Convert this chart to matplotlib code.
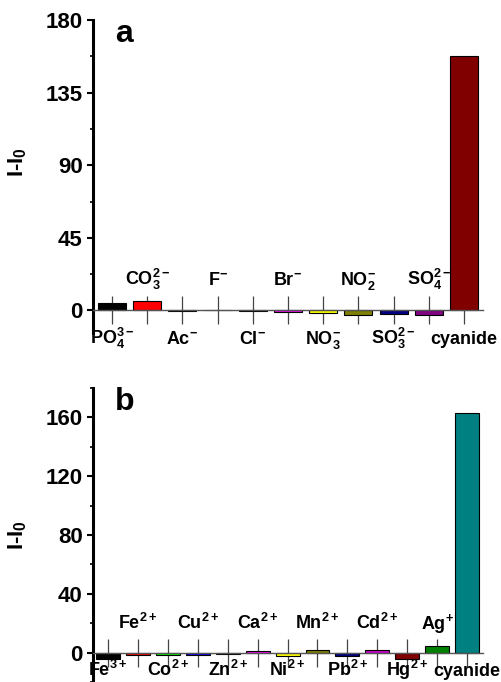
import matplotlib.pyplot as plt
from matplotlib.ticker import MultipleLocator

plt.rcParams['font.family'] = ['Liberation Sans', 'DejaVu Sans']
plt.rcParams['mathtext.fontset'] = 'custom'
plt.rcParams['mathtext.rm'] = 'Liberation Sans:bold'
plt.rcParams['mathtext.bf'] = 'Liberation Sans:bold'
plt.rcParams['mathtext.it'] = 'Liberation Sans:bold'

# === panel a: anions ===
anion_labels = [r'$\mathbf{PO_4^{3-}}$', r'$\mathbf{CO_3^{2-}}$', r'$\mathbf{Ac^{-}}$', r'$\mathbf{F^{-}}$',
                r'$\mathbf{Cl^{-}}$', r'$\mathbf{Br^{-}}$', r'$\mathbf{NO_3^{-}}$', r'$\mathbf{NO_2^{-}}$',
                r'$\mathbf{SO_3^{2-}}$', r'$\mathbf{SO_4^{2-}}$', 'cyanide']
anion_values = [4.8, 5.6, -0.5, 0.5, -0.2, -1.2, -1.8, -2.8, -2.0, -2.8, 157.7]
anion_colors = ['#000000', '#FF0000', '#00FF00', '#0000FF', '#00FFFF', '#FF00FF',
                '#FFFF00', '#808000', '#000080', '#800080', '#800000']

# === panel b: cations ===
cation_labels = [r'$\mathbf{Fe^{3+}}$', r'$\mathbf{Fe^{2+}}$', r'$\mathbf{Co^{2+}}$', r'$\mathbf{Cu^{2+}}$',
                 r'$\mathbf{Zn^{2+}}$', r'$\mathbf{Ca^{2+}}$', r'$\mathbf{Ni^{2+}}$', r'$\mathbf{Mn^{2+}}$',
                 r'$\mathbf{Pb^{2+}}$', r'$\mathbf{Cd^{2+}}$', r'$\mathbf{Hg^{2+}}$', r'$\mathbf{Ag^{+}}$', 'cyanide']
cation_values = [-4.1, -1.8, -1.8, -1.4, -0.7, 0.9, -2.0, 1.6, -2.3, 1.8, -4.1, 4.3, 162.7]
cation_colors = ['#000000', '#FF0000', '#00FF00', '#0000FF', '#008080', '#FF00FF', '#FFFF00',
                 '#808000', '#000080', '#CC00CC', '#800000', '#008000', '#008080']

fig = plt.figure(figsize=(5.02, 6.82), dpi=100)
ax_a = fig.add_axes([93/502, 1-333/682, 390/502, 313/682])
ax_b = fig.add_axes([93/502, 0.0, 390/502, 294/682])


def draw_panel(ax, labels, values, colors, ylim, major, minor, xlim, letter, up_pt, down_pt, letter_y, ylab_y):
    x = list(range(len(values)))
    ax.bar(x, values, width=0.8, color=colors, edgecolor='black', linewidth=0.8, zorder=3)
    ax.set_xlim(*xlim)
    ax.set_ylim(*ylim)
    ax.yaxis.set_major_locator(MultipleLocator(major))
    ax.yaxis.set_minor_locator(MultipleLocator(minor))
    ax.spines['top'].set_visible(False)
    ax.spines['right'].set_visible(False)
    ax.spines['left'].set_linewidth(2.2)
    ax.spines['bottom'].set_position(('data', 0))
    ax.spines['bottom'].set_color('#555555')
    ax.spines['bottom'].set_linewidth(1.0)
    ax.spines['bottom'].set_zorder(4)
    ax.set_xticks(x)
    ax.set_xticklabels([])
    ax.tick_params(axis='x', direction='inout', length=20, width=0.9, color='#444444')
    ax.tick_params(axis='y', which='major', direction='out', length=4.5, width=1.5, pad=3,
                   labelsize=16)
    ax.tick_params(axis='y', which='minor', direction='out', length=2.5, width=1.2)
    for lbl in ax.get_yticklabels():
        lbl.set_fontweight('bold')
    for i, lab in enumerate(labels):
        dy = down_pt if i % 2 == 0 else up_pt
        ax.annotate(lab, xy=(i, 0), xytext=(0, dy), textcoords='offset points',
                    ha='center', va='baseline', fontsize=13, fontweight='bold',
                    annotation_clip=False)
    ax.text(0.056, letter_y, letter, transform=ax.transAxes, fontsize=23, fontweight='bold',
            ha='left', va='baseline')
    ax.set_ylabel(r'I-I$_\mathbf{0}$', fontsize=16, fontweight='bold')
    ax.yaxis.set_label_coords(-0.165, ylab_y)


draw_panel(ax_a, anion_labels, anion_values, anion_colors, (-14, 180), 45, 22.5,
           (-0.54, 10.54), 'a', 18, -24, 0.93, 0.546)
draw_panel(ax_b, cation_labels, cation_values, cation_colors, (-20, 180), 40, 20,
           (-0.5, 12.53), 'b', 17, -17.2, 0.925, 0.5)

fig.savefig('out.png', dpi=100)
